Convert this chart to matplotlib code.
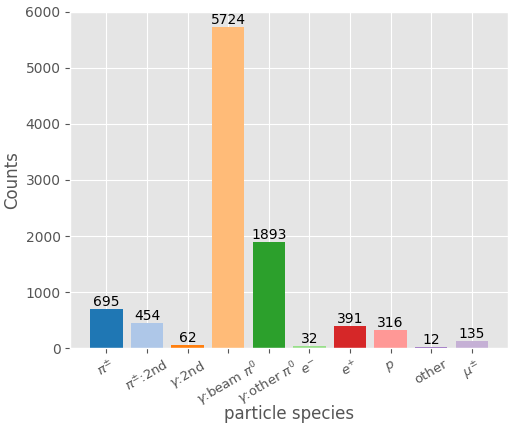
import matplotlib
matplotlib.use("Agg")
import matplotlib.pyplot as plt

plt.style.use("ggplot")

categories = [r"$\pi^{\pm}$", r"$\pi^{\pm}$:2nd", r"$\gamma$:2nd", r"$\gamma$:beam $\pi^0$",
              r"$\gamma$:other $\pi^0$", r"$e^{-}$", r"$e^{+}$", r"$p$", "other", r"$\mu^{\pm}$"]
counts = [695, 454, 62, 5724, 1893, 32, 391, 316, 12, 135]
colors = ["#1f77b4", "#aec7e8", "#ff7f0e", "#ffbb78", "#2ca02c", "#98df8a",
          "#d62728", "#ff9896", "#9467bd", "#c5b0d5"]

fig, ax = plt.subplots(figsize=(5.13, 4.24), dpi=100)
x = list(range(len(categories)))
bars = ax.bar(x, counts, color=colors, width=0.8)
ax.bar_label(bars, labels=[str(c) for c in counts], fontsize=10, color="black")
ax.set_xticks(x)
ax.set_xticklabels(categories, rotation=30, ha="center", fontsize=9.5)
ax.tick_params(axis="y", labelsize=10)
ax.set_ylim(0, 6000)
ax.set_ylabel("Counts", fontsize=12)
ax.yaxis.set_label_coords(-0.112, 0.5)
ax.set_xlabel("particle species", fontsize=12)
ax.xaxis.set_label_coords(0.5, -0.168)
fig.subplots_adjust(left=0.137, right=0.99, top=0.972, bottom=0.179)
fig.savefig("out.png", dpi=100)
